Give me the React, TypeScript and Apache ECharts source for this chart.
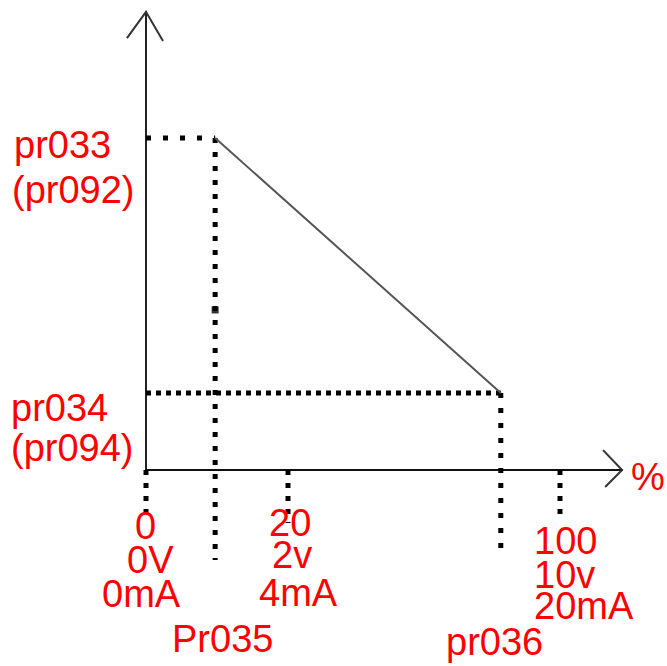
import React, { useEffect, useRef } from "react";
import * as echarts from "echarts";

// ---- data (diagram units: x = position along % axis, y = output level) ----
const xMax = 115; // arrow tip of the % axis
const yMax = 138; // arrow tip of the output axis
const xTickValues = [0, 34.3, 100]; // 0 %, 20 %, 100 % marks
const xTickDepth = [-15, -16, -15];
const xTickLabels = [
  ["0", "0V", "0mA"],
  ["20", "2v", "4mA"],
  ["100", "10v", "20mA"],
];
const breakX = [16.7, 85.7]; // Pr035, pr036
const breakDepth = [-27.1, -26.5];
const breakLabels = ["Pr035", "pr036"];
const levelY = [100, 23.2]; // pr033, pr034
const levelLabels = [
  ["pr033", "(pr092)"],
  ["pr034", "(pr094)"],
];
const curveX = [16.7, 85.7];
const curveY = [100, 23.2];
const strayDot = [16.7, 48.2];
const yArrow = [[-4.6, 130.1], [0, 138], [4.1, 129.2]];
const xArrow = [[110.4, 6], [115, 0], [110.9, -5.1]];
const unitLabel = "%";

// ---- layout (pixels) ----
const GRID_LEFT = 146;
const GRID_BOTTOM_Y = 470;
const PX_X = 4.14;
const PX_Y = 3.32;
const RED = "#ff0000";
const FONT = "'Liberation Sans', Arial, sans-serif";
const FS = 38;

const textPos: Record<string, [number, number]> = {
  pr033: [14, 145],
  "(pr092)": [12, 190],
  pr034: [11, 408],
  "(pr094)": [11, 448],
  "0": [135, 526],
  "0V": [127, 560],
  "0mA": [102, 594],
  "20": [269, 523],
  "2v": [272, 555],
  "4mA": [259, 593],
  "100": [534, 541],
  "10v": [534, 575],
  "20mA": [534, 606],
  Pr035: [172, 639],
  pr036: [446, 642],
  "%": [631, 477],
};

function dotted(data: number[][], dash: number[]) {
  return {
    type: "line",
    data,
    symbol: "none",
    clip: false,
    silent: true,
    lineStyle: { color: "#000", width: 5, type: dash, cap: "butt" },
    z: 3,
  };
}

export default function App() {
  const ref = useRef<HTMLDivElement>(null);
  useEffect(() => {
    if (!ref.current) return;
    const chart = echarts.init(ref.current, undefined, { renderer: "svg" });

    const series: any[] = [];
    series.push(dotted([[0, levelY[0]], [breakX[0], levelY[0]]], [5, 12]));
    series.push(dotted([[0, levelY[1]], [breakX[1], levelY[1]]], [5, 5]));
    series.push(dotted([[breakX[0], levelY[0]], [breakX[0], breakDepth[0]]], [5, 9]));
    series.push(dotted([[breakX[1], levelY[1]], [breakX[1], breakDepth[1]]], [5, 10]));
    xTickValues.forEach((v, i) => {
      series.push(dotted([[v, 0], [v, xTickDepth[i]]], [5, 8]));
    });
    series.push({
      type: "line",
      data: curveX.map((x, i) => [x, curveY[i]]),
      symbol: "none",
      clip: false,
      lineStyle: { color: "#555", width: 2 },
      z: 4,
    });
    series.push({
      type: "scatter",
      data: [strayDot],
      symbol: "rect",
      symbolSize: 7,
      itemStyle: { color: "#000" },
      clip: false,
    });

    chart.setOption({
      animation: false,
      backgroundColor: "#fff",
      grid: {
        left: GRID_LEFT,
        top: GRID_BOTTOM_Y - yMax * PX_Y,
        width: xMax * PX_X,
        height: yMax * PX_Y,
      },
      xAxis: {
        type: "value",
        min: 0,
        max: xMax,
        axisLine: { show: true, lineStyle: { color: "#111", width: 2 } },
        axisTick: { show: false },
        axisLabel: { show: false },
        splitLine: { show: false },
      },
      yAxis: {
        type: "value",
        min: 0,
        max: yMax,
        axisLine: { show: true, lineStyle: { color: "#222", width: 2 } },
        axisTick: { show: false },
        axisLabel: { show: false },
        splitLine: { show: false },
      },
      series,
    });

    const toPx = (p: number[]) =>
      chart.convertToPixel({ gridIndex: 0 }, p) as number[];

    const allTexts: string[] = [
      ...levelLabels.flat(),
      ...xTickLabels.flat(),
      ...breakLabels,
      unitLabel,
    ];
    const graphic: any[] = allTexts.map((t) => ({
      type: "text",
      x: textPos[t][0],
      y: textPos[t][1],
      z: 10,
      style: {
        text: t,
        fill: RED,
        font: `${FS}px ${FONT}`,
        lineHeight: 28,
        align: "left",
        verticalAlign: "middle",
      },
    }));
    [yArrow, xArrow].forEach((arr) => {
      graphic.push({
        type: "polyline",
        z: 5,
        shape: { points: arr.map(toPx) },
        style: { stroke: "#333", lineWidth: 2, fill: null },
      });
    });

    chart.setOption({ graphic });
    return () => chart.dispose();
  }, []);
  return (
    <div
      ref={ref}
      style={{ position: "absolute", left: 0, top: 0, width: 667, height: 666 }}
    />
  );
}
